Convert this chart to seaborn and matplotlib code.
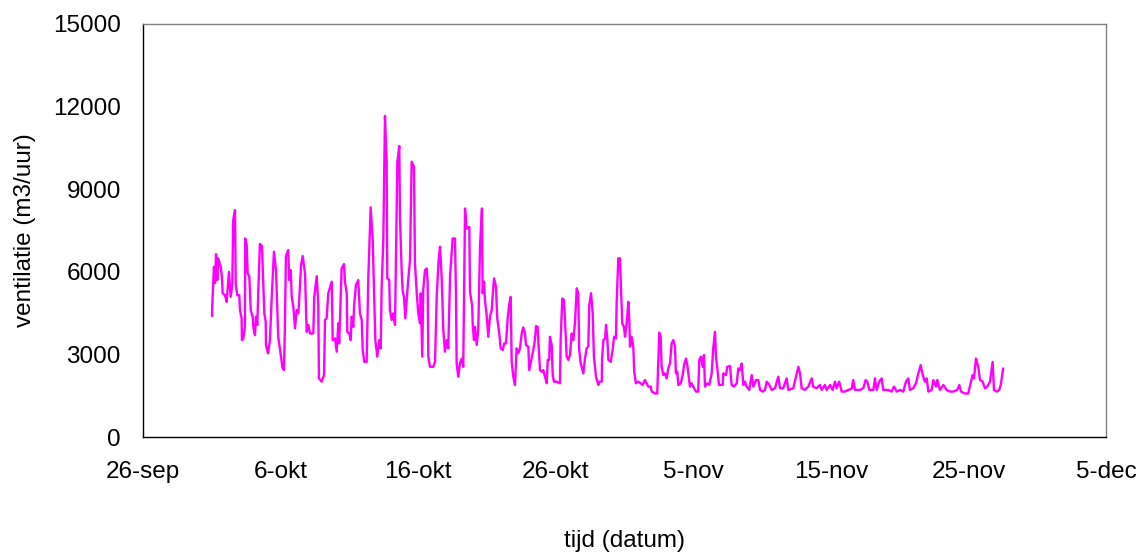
import matplotlib

matplotlib.use("Agg")

import matplotlib.pyplot as plt
import pandas as pd
import seaborn as sns


OUTPUT_FILE = "out.png"
START_DATE = pd.Timestamp("2005-09-26")

# dagen sinds 26-sep
DAYS = [
    5.02, 5.04, 5.16, 5.23, 5.31, 5.40, 5.47, 5.65, 5.74, 5.79, 5.96, 6.08,
    6.25, 6.37, 6.49, 6.56, 6.69, 6.74, 6.85, 7.00, 7.05, 7.17, 7.19, 7.29,
    7.41, 7.43, 7.54, 7.61, 7.73, 7.78, 7.83, 7.97, 8.02, 8.14, 8.21, 8.31,
    8.38, 8.50, 8.65, 8.74, 8.82, 8.92, 8.94, 9.09, 9.23, 9.36, 9.52, 9.67,
    9.72, 9.83, 10.01, 10.15, 10.25, 10.32, 10.39, 10.56, 10.63, 10.74, 10.81,
    10.93, 11.05, 11.17, 11.29, 11.36, 11.49, 11.61, 11.78, 11.85, 11.90,
    12.02, 12.14, 12.38, 12.45, 12.63, 12.74, 12.79, 12.99, 13.16, 13.23,
    13.35, 13.47, 13.72, 13.79, 13.96, 14.08, 14.20, 14.26, 14.44, 14.61,
    14.68, 14.81, 14.85, 15.00, 15.10, 15.17, 15.29, 15.34, 15.48, 15.65,
    15.77, 15.90, 15.97, 16.09, 16.26, 16.38, 16.55, 16.70, 16.81, 16.89,
    17.03, 17.18, 17.28, 17.35, 17.47, 17.59, 17.71, 17.76, 17.90, 17.95,
    18.08, 18.19, 18.32, 18.39, 18.49, 18.63, 18.68, 18.81, 18.88, 18.97,
    19.07, 19.17, 19.28, 19.41, 19.53, 19.70, 19.77, 19.90, 20.01, 20.14,
    20.19, 20.30, 20.37, 20.50, 20.62, 20.69, 20.74, 20.86, 21.10, 21.23,
    21.35, 21.49, 21.59, 21.71, 21.83, 21.95, 22.08, 22.19, 22.32, 22.51,
    22.68, 22.75, 22.80, 22.92, 23.04, 23.17, 23.28, 23.41, 23.53, 23.72,
    23.77, 23.92, 23.97, 24.06, 24.13, 24.26, 24.37, 24.50, 24.64, 24.69,
    24.79, 24.86, 24.98, 25.10, 25.22, 25.35, 25.42, 25.52, 25.66, 25.75,
    25.90, 26.00, 26.15, 26.26, 26.39, 26.51, 26.63, 26.73, 26.80, 26.92,
    27.04, 27.16, 27.28, 27.40, 27.53, 27.64, 27.77, 27.84, 28.01, 28.08,
    28.25, 28.37, 28.49, 28.57, 28.69, 28.76, 28.86, 28.98, 29.10, 29.22,
    29.35, 29.42, 29.53, 29.58, 29.71, 29.78, 29.88, 30.07, 30.31, 30.36,
    30.48, 30.60, 30.68, 30.80, 30.92, 31.04, 31.16, 31.28, 31.40, 31.53,
    31.64, 31.71, 31.82, 32.01, 32.13, 32.25, 32.37, 32.44, 32.57, 32.69,
    32.78, 32.93, 33.10, 33.17, 33.35, 33.37, 33.47, 33.59, 33.66, 33.76,
    33.83, 34.00, 34.14, 34.24, 34.38, 34.43, 34.55, 34.67, 34.75, 34.84,
    34.96, 35.04, 35.16, 35.28, 35.35, 35.40, 35.52, 35.64, 35.71, 35.83,
    36.00, 36.18, 36.32, 36.49, 36.61, 36.73, 36.91, 36.98, 37.22, 37.38,
    37.46, 37.53, 37.63, 37.70, 37.82, 37.94, 38.07, 38.18, 38.31, 38.43,
    38.55, 38.67, 38.74, 38.84, 38.91, 39.09, 39.23, 39.33, 39.47, 39.57,
    39.64, 39.76, 39.88, 40.00, 40.20, 40.36, 40.44, 40.56, 40.69, 40.78,
    40.85, 41.02, 41.16, 41.34, 41.45, 41.58, 41.65, 41.75, 41.87, 42.14,
    42.18, 42.38, 42.47, 42.67, 42.79, 42.96, 43.16, 43.27, 43.40, 43.52,
    43.64, 43.76, 43.88, 44.07, 44.25, 44.37, 44.56, 44.73, 44.85, 45.05,
    45.21, 45.34, 45.53, 45.70, 45.94, 46.18, 46.31, 46.54, 46.79, 46.91,
    47.27, 47.64, 47.76, 47.88, 48.12, 48.36, 48.61, 48.72, 48.97, 49.21,
    49.33, 49.57, 49.70, 49.94, 50.13, 50.30, 50.42, 50.61, 50.79, 51.03,
    51.27, 51.51, 51.63, 51.76, 52.12, 52.36, 52.53, 52.65, 52.80, 53.09,
    53.21, 53.33, 53.52, 53.70, 53.81, 54.18, 54.42, 54.59, 54.79, 55.03,
    55.27, 55.46, 55.63, 55.75, 55.99, 56.19, 56.36, 56.53, 56.68, 56.84,
    56.97, 57.09, 57.33, 57.45, 57.65, 57.74, 57.93, 58.18, 58.42, 58.66,
    58.90, 59.19, 59.34, 59.46, 59.75, 59.99, 60.16, 60.31, 60.41, 60.55,
    60.72, 60.84, 61.04, 61.20, 61.37, 61.57, 61.76, 61.86, 62.06, 62.24,
    62.35, 62.53,
]

# ventilatie in m3/uur
VENTILATIE = [
    4390, 4850, 6180, 5590, 6640, 5700, 6490, 6180, 5820, 5220, 5150, 4910,
    6000, 5090, 5520, 7880, 8240, 5580, 5150, 5150, 4610, 4310, 3520, 3580,
    4000, 7210, 6970, 5940, 5820, 5220, 4610, 4370, 4000, 3700, 4370, 4070,
    5280, 7010, 6940, 5700, 4490, 4190, 3340, 3040, 3520, 5090, 6730, 6060,
    5280, 3640, 2980, 2490, 2430, 4130, 6570, 6790, 5700, 6060, 5090,
    4730, 3950, 4610, 4490, 5030, 6240, 6570, 5940, 4610, 3820,
    4070, 3760, 3760, 5090, 5840, 4850, 2130, 2010, 2250, 4250,
    4310, 5220, 5640, 3520, 3580, 3100, 4130, 3400, 6120, 6280,
    5640, 5220, 3820, 3760, 3520, 4370, 4000, 4730, 5520, 5700,
    4490, 4250, 3160, 2730, 2730, 5820, 8340, 7150, 4970, 3520,
    2920, 3520, 3220, 5460, 7150, 11660, 10060, 5760, 5700, 4610,
    4250, 4490, 4070, 6550, 10000, 10570, 8000, 5940, 5280, 5090,
    4310, 4970, 5700, 6430, 10000, 9810, 6300, 5220, 4490, 4130,
    5220, 2920, 5340, 6060, 6120, 5640, 2920, 2550, 2550, 2730,
    5090, 6430, 6910, 5820, 3890, 3100, 3520, 3220, 5820, 7210,
    7210, 5220, 2670, 2190, 2670, 2850, 2550, 8300, 7570, 7630,
    5280, 4790, 4070, 3520, 4000, 3340, 3890, 6910, 8300, 5220,
    5640, 4970, 4430, 3640, 4370, 4610, 5150, 5760, 5460, 4310,
    3760, 3220, 3160, 3400, 3400, 4310, 4850, 5090, 2730, 2190,
    1890, 3220, 3040, 3220, 3760, 3980, 3760, 3340, 3280, 2430,
    2850, 3160, 3520, 4030, 4000, 3280, 2430, 2370, 2430, 2190,
    1950, 2800, 2800, 3640, 3340, 2250, 2010, 2010, 1950, 3520,
    5030, 4970, 4190, 2920, 2800, 2980, 3760, 3520, 4130, 5400,
    5220, 3160, 2670, 2310, 2850, 3220, 3280, 4790, 5220, 4490,
    2920, 2190, 1890, 2010, 2010, 2850, 3520, 3580, 4070, 3520,
    2800, 2730, 3160, 3640, 3580, 4850, 6490, 6490, 5340, 4130,
    4000, 3640, 4130, 4910, 4250, 3280, 3640, 3280, 2370, 1950,
    2010, 1950, 1890, 2070, 1950, 1830, 1830, 1650, 1580, 1580,
    2800, 3790, 3640, 2550, 2250, 2310, 2130, 2490, 2670, 3400,
    3520, 3280, 2310, 2370, 1890, 1950, 2250, 2610, 2850, 2610,
    2310, 1830, 1950, 1830, 1650, 1650, 2800, 2920, 2550, 2980,
    1830, 1950, 1890, 2310, 3220, 3820, 2920, 2490, 1890, 1890,
    2310, 2250, 2550, 2580, 1890, 1830, 1950, 2490, 2430, 2670,
    1890, 2010, 1830, 1710, 2250, 1830, 2070, 2070, 1710, 1650,
    1710, 2010, 1890, 1710, 1770, 2190, 1770, 1770, 2130, 1710,
    1770, 2550, 2310, 1770, 1710, 1830, 2130, 1830, 1770, 1890,
    1710, 1890, 1710, 1890, 1710, 2010, 1770, 2010, 1650, 1650,
    1710, 1750, 2070, 1710, 1710, 1770, 2070, 2010, 1710, 1710,
    2130, 1710, 2010, 2130, 1710, 1710, 1650, 1830, 1650, 1710,
    1650, 2010, 2130, 1710, 1770, 1950, 2310, 2610, 2250, 2010,
    2130, 1650, 1710, 2070, 1830, 2070, 1710, 1890, 1710, 1650,
    1650, 1710, 1890, 1650, 1580, 1580, 1950, 2250, 2130, 2850,
    2550, 2070, 2010, 1770, 1830, 2010, 2730, 1710, 1650, 1710,
    1890, 2490,
]

TICK_LABELS = ["26-sep", "6-okt", "16-okt", "26-okt", "5-nov", "15-nov", "25-nov", "5-dec"]
Y_TICKS = [0, 3000, 6000, 9000, 12000, 15000]


def plot_ventilatie() -> None:
    sns.set_style("white")
    plt.rcParams["font.family"] = ["Liberation Sans", "DejaVu Sans"]
    plt.rcParams["axes.labelcolor"] = "black"
    plt.rcParams["text.color"] = "black"

    df = pd.DataFrame(
        {
            "tijd": START_DATE + pd.to_timedelta(DAYS, unit="D"),
            "ventilatie": VENTILATIE,
        }
    )

    fig = plt.figure(figsize=(11.43, 5.55), dpi=100)
    ax = fig.add_axes([0.1251, 0.2126, 0.8425, 0.7442])

    sns.lineplot(
        data=df,
        x="tijd",
        y="ventilatie",
        estimator=None,
        color="#FF00FF",
        linewidth=1.7,
        ax=ax,
    )

    tick_dates = pd.date_range(START_DATE, periods=len(TICK_LABELS), freq="10D")
    ax.set_xlim(tick_dates[0], tick_dates[-1])
    ax.set_xticks(tick_dates)
    ax.set_xticklabels(TICK_LABELS)
    ax.set_ylim(0, 15000)
    ax.set_yticks(Y_TICKS)

    ax.tick_params(axis="both", labelsize=17.5, colors="black", direction="out")
    ax.tick_params(axis="x", length=6, width=1, pad=11)
    ax.tick_params(axis="y", length=6, width=1, pad=10)

    ax.set_xlabel("tijd (datum)", fontsize=17.5, labelpad=34, color="black")
    ax.set_ylabel("ventilatie (m3/uur)", fontsize=17.5, labelpad=12, color="black")

    for side in ("left", "bottom"):
        ax.spines[side].set_color("black")
        ax.spines[side].set_linewidth(1.0)
    for side in ("top", "right"):
        ax.spines[side].set_color("#808080")
        ax.spines[side].set_linewidth(1.0)
    ax.grid(False)

    fig.savefig(OUTPUT_FILE, dpi=100)
    plt.close(fig)


def main() -> None:
    plot_ventilatie()


if __name__ == "__main__":
    main()
